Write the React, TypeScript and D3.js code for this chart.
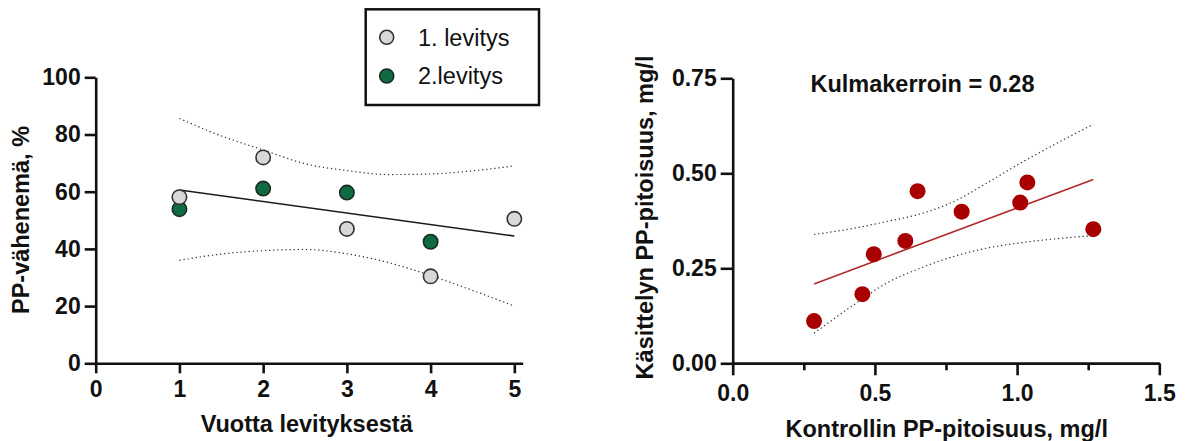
import React, { useEffect, useRef } from 'react';
import * as d3 from 'd3';

// Left chart: PP reduction by years since application
const yearsFirst = [1, 2, 3, 4, 5];
const reductionFirst = [58.1, 72.0, 47.0, 30.4, 50.5];
const yearsSecond = [1, 2, 3, 4];
const reductionSecond = [53.9, 61.1, 59.7, 42.5];
const leftFitX = [1, 5];
const leftFitY = [60.6, 44.5];
const leftBandX = [1, 1.5, 2, 2.5, 3, 3.5, 4, 4.5, 5];
const leftBandUpper = [85.6, 79.5, 74.6, 69.8, 67.4, 66.0, 66.2, 67.3, 69.0];
const leftBandLower = [36.0, 38.2, 39.4, 39.8, 38.3, 35.2, 30.7, 25.5, 20.0];
const leftXTicks = [0, 1, 2, 3, 4, 5];
const leftYTicks = [0, 20, 40, 60, 80, 100];

// Right chart: control vs treated PP concentration
const controlPP = [0.286, 0.456, 0.496, 0.607, 0.65, 0.805, 1.011, 1.036, 1.268];
const treatedPP = [0.111, 0.182, 0.287, 0.322, 0.453, 0.399, 0.423, 0.476, 0.353];
const rightFitX = [0.286, 1.268];
const rightFitY = [0.209, 0.484];
const rightBandX = [0.286, 0.424, 0.541, 0.659, 0.776, 0.893, 1.01, 1.127, 1.268];
const rightBandUpper = [0.339, 0.355, 0.373, 0.393, 0.425, 0.474, 0.526, 0.574, 0.629];
const rightBandLower = [0.079, 0.153, 0.211, 0.25, 0.281, 0.303, 0.317, 0.327, 0.336];
const rightXTicks = [0, 0.5, 1.0, 1.5];
const rightXMinor = [0.25, 0.75, 1.25];
const rightYTicks = [0, 0.25, 0.5, 0.75];

const legendLabels = ['1. levitys', '2.levitys'];
const slopeLabel = 'Kulmakerroin = 0.28';

const FONT = '"Liberation Sans", Arial, sans-serif';

const App = () => {
  const svgRef = useRef(null);

  useEffect(() => {
    const svg = d3.select(svgRef.current);
    svg.selectAll('*').remove();
    svg.attr('font-family', FONT);

    const styleAxis = (g, fontSize = 23) => {
      g.select('.domain').attr('stroke', '#111').attr('stroke-width', 2.6);
      g.selectAll('.tick line').attr('stroke', '#111').attr('stroke-width', 2.6);
      g.selectAll('.tick text')
        .attr('fill', '#111')
        .attr('font-size', fontSize)
        .attr('font-weight', 'bold')
        .attr('font-family', FONT);
    };

    const dotted = (g, pts, x, y) => {
      g.append('path')
        .datum(pts)
        .attr('fill', 'none')
        .attr('stroke', '#333')
        .attr('stroke-width', 1.2)
        .attr('stroke-dasharray', '1.3,2.8')
        .attr('d', d3.line().x(d => x(d[0])).y(d => y(d[1])).curve(d3.curveMonotoneX));
    };

    // ---------- left chart ----------
    const xL = d3.scaleLinear().domain([0, 5.1]).range([95.7, 522.7]);
    const yL = d3.scaleLinear().domain([0, 100]).range([363.3, 77.3]);
    const left = svg.append('g');

    left.append('g')
      .attr('transform', `translate(0,${yL(0)})`)
      .call(d3.axisBottom(xL).tickValues(leftXTicks).tickFormat(d3.format('d')).tickSize(10).tickSizeOuter(0).tickPadding(7))
      .call(g => styleAxis(g));
    left.append('g')
      .attr('transform', `translate(${xL(0)},0)`)
      .call(d3.axisLeft(yL).tickValues(leftYTicks).tickFormat(d3.format('d')).tickSize(11).tickSizeOuter(0).tickPadding(4))
      .call(g => styleAxis(g));

    dotted(left, leftBandX.map((v, i) => [v, leftBandUpper[i]]), xL, yL);
    dotted(left, leftBandX.map((v, i) => [v, leftBandLower[i]]), xL, yL);

    left.append('path')
      .datum(leftFitX.map((v, i) => [v, leftFitY[i]]))
      .attr('fill', 'none')
      .attr('stroke', '#1a1a1a')
      .attr('stroke-width', 1.6)
      .attr('d', d3.line().x(d => xL(d[0])).y(d => yL(d[1])));

    left.selectAll('.second')
      .data(yearsSecond.map((v, i) => [v, reductionSecond[i]]))
      .enter().append('circle')
      .attr('cx', d => xL(d[0]))
      .attr('cy', d => yL(d[1]))
      .attr('r', 7.2)
      .attr('fill', '#0e6b42')
      .attr('stroke', '#1c2a22')
      .attr('stroke-width', 1.6);

    left.selectAll('.first')
      .data(yearsFirst.map((v, i) => [v, reductionFirst[i]]))
      .enter().append('circle')
      .attr('cx', d => xL(d[0]))
      .attr('cy', d => yL(d[1]))
      .attr('r', 7.2)
      .attr('fill', '#d8d8d8')
      .attr('stroke', '#333')
      .attr('stroke-width', 1.6);

    left.append('text')
      .attr('x', 306.7)
      .attr('y', 432)
      .attr('text-anchor', 'middle')
      .attr('font-size', 23.5)
      .attr('font-weight', 'bold')
      .attr('fill', '#111')
      .text('Vuotta levityksestä');
    left.append('text')
      .attr('transform', 'translate(29,220) rotate(-90)')
      .attr('text-anchor', 'middle')
      .attr('font-size', 23.5)
      .attr('font-weight', 'bold')
      .attr('fill', '#111')
      .text('PP-vähenemä, %');

    // legend
    const legend = svg.append('g');
    legend.append('rect')
      .attr('x', 365.7).attr('y', 9.3)
      .attr('width', 173.3).attr('height', 95.7)
      .attr('fill', '#fff')
      .attr('stroke', '#111')
      .attr('stroke-width', 2.5);
    const legendFill = ['#d8d8d8', '#0e6b42'];
    const legendStroke = ['#333', '#1c2a22'];
    legendLabels.forEach((lab, i) => {
      const cy = 37.3 + i * 38.7;
      legend.append('circle')
        .attr('cx', 386.7).attr('cy', cy).attr('r', 7)
        .attr('fill', legendFill[i])
        .attr('stroke', legendStroke[i])
        .attr('stroke-width', 1.6);
      legend.append('text')
        .attr('x', 418).attr('y', cy).attr('dy', '0.36em')
        .attr('font-size', 23.5)
        .attr('fill', '#111')
        .text(lab);
    });

    // ---------- right chart ----------
    const xR = d3.scaleLinear().domain([0, 1.5]).range([732.7, 1159.3]);
    const yR = d3.scaleLinear().domain([0, 0.75]).range([363.3, 78.3]);
    const right = svg.append('g');

    right.append('g')
      .attr('transform', `translate(0,${yR(0)})`)
      .call(d3.axisBottom(xR).tickValues(rightXMinor).tickFormat(() => '').tickSize(7).tickSizeOuter(0))
      .call(g => styleAxis(g));
    right.append('g')
      .attr('transform', `translate(0,${yR(0)})`)
      .call(d3.axisBottom(xR).tickValues(rightXTicks).tickFormat(d3.format('.1f')).tickSize(12).tickSizeOuter(0).tickPadding(9))
      .call(g => styleAxis(g));
    right.append('g')
      .attr('transform', `translate(${xR(0)},0)`)
      .call(d3.axisLeft(yR).tickValues(rightYTicks).tickFormat(d3.format('.2f')).tickSize(12).tickSizeOuter(0).tickPadding(4))
      .call(g => styleAxis(g));

    dotted(right, rightBandX.map((v, i) => [v, rightBandUpper[i]]), xR, yR);
    dotted(right, rightBandX.map((v, i) => [v, rightBandLower[i]]), xR, yR);

    right.append('path')
      .datum(rightFitX.map((v, i) => [v, rightFitY[i]]))
      .attr('fill', 'none')
      .attr('stroke', '#b22a2a')
      .attr('stroke-width', 1.6)
      .attr('d', d3.line().x(d => xR(d[0])).y(d => yR(d[1])));

    right.selectAll('.pt')
      .data(controlPP.map((v, i) => [v, treatedPP[i]]))
      .enter().append('circle')
      .attr('cx', d => xR(d[0]))
      .attr('cy', d => yR(d[1]))
      .attr('r', 8)
      .attr('fill', '#a80000');

    right.append('text')
      .attr('x', 922.5)
      .attr('y', 92)
      .attr('text-anchor', 'middle')
      .attr('font-size', 23.5)
      .attr('font-weight', 'bold')
      .attr('fill', '#111')
      .text(slopeLabel);
    right.append('text')
      .attr('x', 946.7)
      .attr('y', 437)
      .attr('text-anchor', 'middle')
      .attr('font-size', 23.5)
      .attr('font-weight', 'bold')
      .attr('fill', '#111')
      .text('Kontrollin PP-pitoisuus, mg/l');
    right.append('text')
      .attr('transform', 'translate(653,217.5) rotate(-90)')
      .attr('text-anchor', 'middle')
      .attr('font-size', 23.5)
      .attr('font-weight', 'bold')
      .attr('fill', '#111')
      .text('Käsittelyn PP-pitoisuus, mg/l');
  }, []);

  return (
    <div style={{ position: 'absolute', left: 0, top: 0, background: '#fff' }}>
      <svg ref={svgRef} width={1186} height={441} style={{ display: 'block' }}></svg>
    </div>
  );
};

export default App;
